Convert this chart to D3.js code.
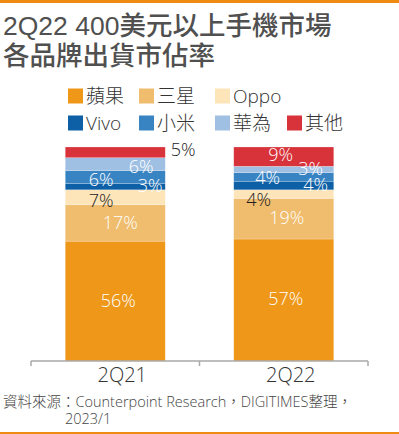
<!DOCTYPE html>
<html>
<head>
<meta charset="utf-8">
<script src="https://cdn.jsdelivr.net/npm/d3@7"></script>
<style>
  body { margin: 0; background: #fff; }
  svg { display: block; font-family: 'Open Sans', 'Noto Sans CJK TC', sans-serif; }
</style>
</head>
<body>
<script>
const periods = ['2Q21', '2Q22'];
const brands = ['蘋果', '三星', 'Oppo', 'Vivo', '小米', '華為', '其他'];
const colors = ['#ee9719', '#f0bc6d', '#fde5b9', '#0d5fa6', '#3884c3', '#9fbfe3', '#d8323a'];
const share2Q21 = [56, 17, 7, 3, 6, 6, 5];
const share2Q22 = [57, 19, 4, 4, 4, 3, 9];

// label nudges from segment centre [dx, dy], and dark labels
const nudge2Q21 = [[3, -1], [5, 0], [-14, 3], [35, -1], [-14, 3], [26, 2], [68, -3]];
const nudge2Q22 = [[2, -1], [3, -1], [-25, 5], [32, -1], [-16, 1], [27, -1], [-3, -2]];
const darkLabel = [false, false, true, false, false, false, false];

const width = 399;
const height = 434;

const svg = d3
  .select('body')
  .append('svg')
  .attr('width', width)
  .attr('height', height);

// Orange rules top and bottom
svg.append('rect').attr('x', 0).attr('y', 0).attr('width', width).attr('height', 3).attr('fill', '#ef8a12');
svg.append('rect').attr('x', 0).attr('y', 432).attr('width', width).attr('height', 2).attr('fill', '#ef8a12');

// Title
const title = svg.append('text')
  .attr('fill', '#505050')
  .attr('font-size', 26.5)
  .attr('font-family', "'Liberation Sans', 'Noto Sans CJK TC', sans-serif")
  .attr('font-weight', 500);
title.append('tspan').attr('x', 3).attr('y', 35).text('2Q22 400美元以上手機市場');
title.append('tspan').attr('x', 3).attr('y', 65).text('各品牌出貨市佔率');

// Legend
const legendRows = [[0, 1, 2], [3, 4, 5, 6]];
const legendX = d3.scaleOrdinal().domain([0, 1, 2, 3]).range([68, 139, 215, 287]);
legendRows.forEach((row, r) => {
  const g = svg.append('g').attr('transform', `translate(0, ${96 + r * 27})`);
  row.forEach((b, i) => {
    g.append('rect')
      .attr('x', legendX(i))
      .attr('y', -7.5)
      .attr('width', 15)
      .attr('height', 15)
      .attr('fill', colors[b]);
    g.append('text')
      .attr('x', legendX(i) + 18)
      .attr('y', 0)
      .attr('dy', '0.36em')
      .attr('font-size', 19)
      .attr('font-weight', 300)
      .attr('fill', '#333')
      .text(brands[b]);
  });
});

// Scales
const x = d3.scaleBand().domain(periods).range([31, 368]);
const y = d3.scaleLinear().domain([0, 100]).range([361, 147]);
const barWidth = 100;

const series = [share2Q21, share2Q22];
const nudges = [nudge2Q21, nudge2Q22];

periods.forEach((p, pi) => {
  const vals = series[pi];
  const cum = d3.cumsum(vals);
  const segs = vals.map((v, i) => ({ v, i, y0: cum[i] - v, y1: cum[i] }));
  const bx = x(p) + (x.bandwidth() - barWidth) / 2;
  const g = svg.append('g');

  g.selectAll('rect')
    .data(segs)
    .enter()
    .append('rect')
    .attr('x', bx)
    .attr('width', barWidth)
    .attr('y', (d) => y(d.y1))
    .attr('height', (d) => y(d.y0) - y(d.y1))
    .attr('fill', (d) => colors[d.i])
    .attr('stroke', 'rgba(255,255,255,0.35)')
    .attr('stroke-width', 0.6);

  g.selectAll('text')
    .data(segs)
    .enter()
    .append('text')
    .attr('x', (d) => bx + barWidth / 2 + nudges[pi][d.i][0])
    .attr('y', (d) => (y(d.y0) + y(d.y1)) / 2 + nudges[pi][d.i][1])
    .attr('dy', '0.36em')
    .attr('text-anchor', 'middle')
    .attr('font-size', 18)
    .attr('font-weight', 300)
    .attr('fill', (d) => (darkLabel[d.i] || (pi === 0 && d.i === 6) ? '#222' : '#fff'))
    .text((d) => `${d.v}%`);
});

// Axis
const axis = svg.append('g').attr('transform', 'translate(0, 361)');
axis.append('line')
  .attr('x1', x.range()[0]).attr('x2', x.range()[1])
  .attr('stroke', '#a8a8a8').attr('stroke-width', 1.5);
axis.selectAll('.tick-edge')
  .data([...periods.map((p) => x(p)), x.range()[1]])
  .enter()
  .append('line')
  .attr('x1', (d) => d).attr('x2', (d) => d)
  .attr('y1', 0).attr('y2', 5)
  .attr('stroke', '#a8a8a8').attr('stroke-width', 1.5);
axis.selectAll('.lbl')
  .data(periods)
  .enter()
  .append('text')
  .attr('x', (d) => x(d) + x.bandwidth() / 2 + 7)
  .attr('y', 21)
  .attr('text-anchor', 'middle')
  .attr('font-size', 20)
  .attr('font-weight', 300)
  .attr('fill', '#333')
  .text((d) => d);

// Source
const src = svg.append('text').attr('font-size', 14.5).attr('font-weight', 300).attr('fill', '#444');
src.append('tspan').attr('x', 3).attr('y', 407).text('資料來源：Counterpoint Research，DIGITIMES整理，');
src.append('tspan').attr('x', 65).attr('y', 424).text('2023/1');
</script>
</body>
</html>
